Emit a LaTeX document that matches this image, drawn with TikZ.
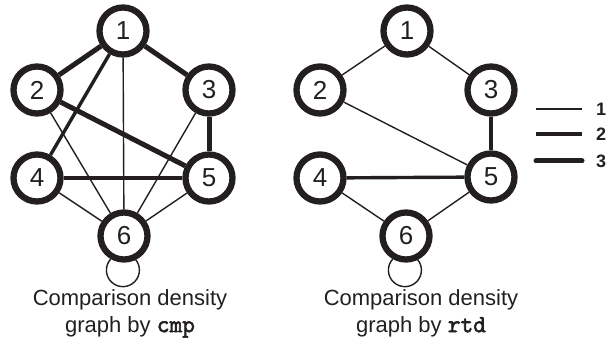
\documentclass[tikz,border=0pt]{standalone}
\usepackage{fontspec}
\setmainfont{Liberation Sans}
\newfontfamily\codefont[FakeBold=2.5, Scale=1.12]{Latin Modern Mono}
\usetikzlibrary{positioning}
\definecolor{ink}{RGB}{35,31,32}
\tikzset{
  vtx/.style={draw=ink, circle, line width=6.3pt, fill=white, minimum size=47pt, inner sep=0pt, text=ink, font=\fontsize{26}{26}\selectfont},
  w1/.style={draw=ink, line width=1.4pt},
  w2/.style={draw=ink, line width=3.4pt},
  w3/.style={draw=ink, line width=5pt},
  captxt/.style={align=center, anchor=north, inner sep=0pt, text=ink, font=\fontsize{22}{27}\selectfont},
  keytxt/.style={anchor=west, inner sep=0pt, text=ink, font=\fontsize{18}{18}\selectfont\bfseries}
}

\begin{document}
\begin{tikzpicture}[x=1pt, y=-1pt]
\useasboundingbox (0,0) rectangle (610,347);

% Density graph by cmp
\node[vtx] (c1) at (123,31) {1};
\node[vtx] (c2) at (37,90) {2};
\node[vtx] (c3) at (209,90) {3};
\node[vtx] (c4) at (37,178) {4};
\node[vtx] (c5) at (209,178) {5};
\node[vtx] (c6) at (124,236) {6};

\draw[w3] (c1) -- (c2);
\draw[w3] (c1) -- (c3);
\draw[w2] (c1) -- (c4);
\draw[w1] (c1) -- (c6);
\draw[w3] (c2) -- (c5);
\draw[w1] (c2) -- (c6);
\draw[w3] (c3) -- (c5);
\draw[w1] (c3) -- (c6);
\draw[w2] (c4) -- (c5);
\draw[w1] (c4) -- (c6);
\draw[w1] (c5) -- (c6);
\draw[w1] (c6.-120.3) arc[start angle=137.9, end angle=402.1, radius=16.5pt];

\node[captxt] (ccap) at (130,289) {Comparison density\\graph by {\codefont cmp}};

% Density graph by rtd
\node[vtx] (r1) at (407,31) {1};
\node[vtx] (r2) at (320,90) {2};
\node[vtx] (r3) at (491,90) {3};
\node[vtx] (r4) at (320,178) {4};
\node[vtx] (r5) at (491,177) {5};
\node[vtx] (r6) at (406,236) {6};

\draw[w1] (r1) -- (r2);
\draw[w1] (r1) -- (r3);
\draw[w1] (r2) -- (r5);
\draw[w2] (r3) -- (r5);
\draw[w2] (r4) -- (r5);
\draw[w1] (r4) -- (r6);
\draw[w1] (r5) -- (r6);
\draw[w1] (r6.-120.3) arc[start angle=137.9, end angle=402.1, radius=16.5pt];

\node[captxt] (rcap) at (421,289) {Comparison density\\graph by {\codefont rtd}};

% Legend
\coordinate (k1a) at (536,109); \coordinate (k1b) at (582,109);
\coordinate (k2a) at (536,134); \coordinate (k2b) at (582,134);
\coordinate (k3a) at (536,161); \coordinate (k3b) at (582,161);
\draw[w1] (k1a) -- (k1b);
\draw[w2] (k2a) -- (k2b);
\draw[w3, line cap=round] (k3a) -- (k3b);
\node[keytxt] (k1) at (596,109) {1};
\node[keytxt] (k2) at (596,134) {2};
\node[keytxt] (k3) at (596,161) {3};

\end{tikzpicture}
\end{document}
